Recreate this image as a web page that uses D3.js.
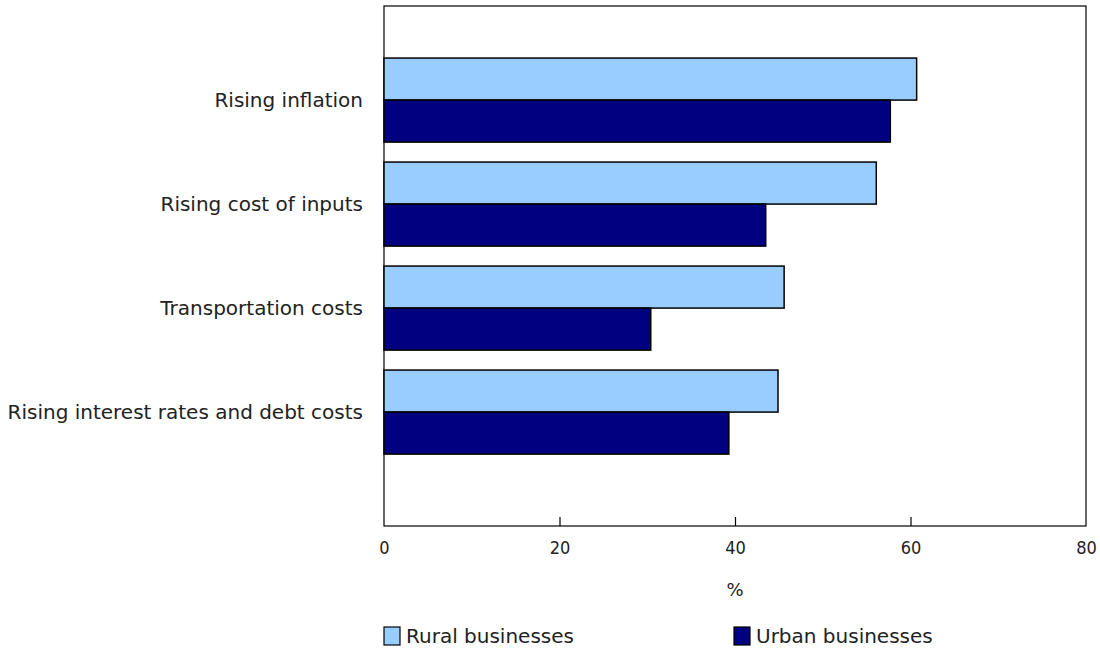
<!DOCTYPE html>
<html lang="en">
<head>
<meta charset="UTF-8">
<title>Rural and urban businesses</title>
<script src="https://d3js.org/d3.v7.min.js"></script>
<style>
  body { margin: 0; background: #fff; }
  svg text { font-family: "DejaVu Sans", Verdana, sans-serif; fill: #222; }
</style>
</head>
<body>
<svg id="chart" width="1100" height="649"></svg>
<script>
const categories = ["Rising inflation", "Rising cost of inputs", "Transportation costs", "Rising interest rates and debt costs"];
const series = ["Rural businesses", "Urban businesses"];
const rural = [60.7, 56.1, 45.6, 44.9];
const urban = [57.7, 43.5, 30.4, 39.3];
const xTicks = [0, 20, 40, 60, 80];
const colors = ["#99ccff", "#000080"];

const svg = d3.select("#chart");
const plotL = 384, plotR = 1086, plotT = 6, plotB = 526;

const x = d3.scaleLinear().domain([0, 80]).range([plotL, plotR]);
const y = d3.scaleBand()
    .domain(categories)
    .range([plotT, plotB])
    .paddingInner(0.192)
    .paddingOuter(0.596)
    .align(0.42);
const ySub = d3.scaleBand().domain(series).range([0, y.bandwidth()]);

// frame
svg.append("rect")
    .attr("x", plotL).attr("y", plotT)
    .attr("width", plotR - plotL).attr("height", plotB - plotT)
    .attr("fill", "none").attr("stroke", "#000").attr("stroke-width", 1.2);

// bars
const rows = categories.map((c, i) => ({ cat: c, vals: [rural[i], urban[i]] }));
const g = svg.append("g");
rows.forEach(r => {
    r.vals.forEach((v, j) => {
        g.append("rect")
            .attr("x", x(0))
            .attr("y", y(r.cat) + ySub(series[j]))
            .attr("width", x(v) - x(0))
            .attr("height", ySub.bandwidth())
            .attr("fill", colors[j])
            .attr("stroke", "#000")
            .attr("stroke-width", 1.5);
    });
});

// category labels
svg.append("g").selectAll("text")
    .data(categories)
    .join("text")
    .attr("x", plotL - 21)
    .attr("y", d => y(d) + y.bandwidth() / 2)
    .attr("dy", "0.35em")
    .attr("text-anchor", "end")
    .style("font-size", "20px")
    .text(d => d);

// x axis
const xAxis = d3.axisBottom(x).tickValues(xTicks).tickSize(-9).tickPadding(15);
const ax = svg.append("g")
    .attr("transform", `translate(0,${plotB})`)
    .call(xAxis);
ax.select(".domain").remove();
ax.selectAll(".tick line").attr("stroke", "#000").attr("stroke-width", 1.2)
    .filter(d => d === 0 || d === 80).remove();
ax.selectAll(".tick text")
    .style("font-size", "18px")
    .style("font-family", "'DejaVu Sans Condensed', 'DejaVu Sans', sans-serif")
    .attr("fill", "#222");

svg.append("text")
    .attr("x", (plotL + plotR) / 2)
    .attr("y", 590)
    .attr("dy", "0.35em")
    .attr("text-anchor", "middle")
    .style("font-size", "18px")
    .text("%");

// legend
const legendX = [384, 734];
const leg = svg.append("g").selectAll("g")
    .data(series)
    .join("g")
    .attr("transform", (d, i) => `translate(${legendX[i]},627)`);
leg.append("rect")
    .attr("width", 16).attr("height", 18)
    .attr("fill", (d, i) => colors[i])
    .attr("stroke", "#000").attr("stroke-width", 1.2);
leg.append("text")
    .attr("x", 22).attr("y", 9)
    .attr("dy", "0.35em")
    .style("font-size", "20px")
    .text(d => d);
</script>
</body>
</html>
